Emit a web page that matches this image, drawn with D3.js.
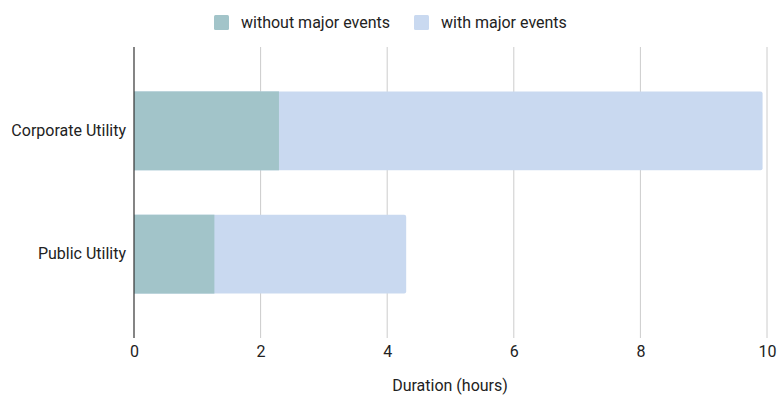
<!DOCTYPE html>
<html>
<head>
<meta charset="utf-8">
<script src="https://cdn.jsdelivr.net/npm/d3@7"></script>
<style>
  html, body { margin: 0; padding: 0; background: #fff; }
  svg { display: block; font-family: Roboto, "Noto Sans", sans-serif; }
</style>
</head>
<body>
<svg id="chart" width="779" height="400"></svg>
<script>
// Average outage duration per utility type, in hours
const categories = ["Corporate Utility", "Public Utility"];
const withoutMajorEvents = [2.29, 1.27];
const withMajorEvents = [9.93, 4.30];
const seriesNames = ["without major events", "with major events"];
const xTicks = [0, 2, 4, 6, 8, 10];
const xTitle = "Duration (hours)";

const colors = ["#a2c4c9", "#c9d9f0"];
const FONT = 16;

const svg = d3.select("#chart");
const plot = { left: 134, right: 767, top: 47, bottom: 338 };

const x = d3.scaleLinear().domain([0, 10]).range([plot.left, plot.right]);
const y = d3.scaleBand().domain(categories)
  .range([plot.top, plot.bottom])
  .paddingInner(0.36).paddingOuter(0.36);

// vertical grid lines
svg.append("g")
  .selectAll("line")
  .data(xTicks.filter(d => d !== 0))
  .join("line")
  .attr("x1", d => x(d)).attr("x2", d => x(d))
  .attr("y1", plot.top).attr("y2", plot.bottom)
  .attr("stroke", "#cccccc").attr("stroke-width", 1);

// bars: the "with" value spans the full bar, "without" overlays from zero
const rows = categories.map((c, i) => ({ cat: c, without: withoutMajorEvents[i], with: withMajorEvents[i] }));

const bars = svg.append("g");
bars.selectAll("path.with")
  .data(rows)
  .join("path")
  .attr("class", "with")
  .attr("fill", colors[1])
  .attr("d", d => {
    const x0 = x(0), x1 = x(d.with), y0 = y(d.cat), h = y.bandwidth(), r = 2;
    return `M${x0},${y0}H${x1 - r}Q${x1},${y0} ${x1},${y0 + r}V${y0 + h - r}Q${x1},${y0 + h} ${x1 - r},${y0 + h}H${x0}Z`;
  });
bars.selectAll("rect.without")
  .data(rows)
  .join("rect")
  .attr("class", "without")
  .attr("x", x(0))
  .attr("y", d => y(d.cat))
  .attr("width", d => x(d.without) - x(0))
  .attr("height", y.bandwidth())
  .attr("fill", colors[0]);

// x axis labels
const xAxis = svg.append("g")
  .attr("transform", `translate(0,${plot.bottom})`)
  .call(d3.axisBottom(x).tickValues(xTicks).tickSize(0).tickPadding(8).tickFormat(d3.format("d")));
xAxis.select(".domain").remove();
xAxis.selectAll("text").attr("font-size", FONT).attr("fill", "#222").attr("font-family", "Roboto, sans-serif");

// y axis labels
const yAxis = svg.append("g")
  .attr("transform", `translate(${plot.left},0)`)
  .call(d3.axisLeft(y).tickSize(0).tickPadding(8));
yAxis.select(".domain").remove();
yAxis.selectAll("text").attr("font-size", FONT).attr("fill", "#222").attr("font-family", "Roboto, sans-serif");

// baseline at zero
svg.append("line")
  .attr("x1", x(0)).attr("x2", x(0))
  .attr("y1", plot.top).attr("y2", plot.bottom)
  .attr("stroke", "#333333").attr("stroke-width", 1.2);

// axis title
svg.append("text")
  .attr("x", 450)
  .attr("y", 391)
  .attr("text-anchor", "middle")
  .attr("font-size", FONT)
  .attr("fill", "#222")
  .text(xTitle);

// legend
const legendX = [214, 414];
const legendItems = svg.append("g").selectAll("g")
  .data(seriesNames)
  .join("g")
  .attr("transform", (d, i) => `translate(${legendX[i]},0)`);
legendItems.append("rect")
  .attr("width", 15).attr("height", 15).attr("rx", 1.5)
  .attr("y", 15)
  .attr("fill", (d, i) => colors[i]);
legendItems.append("text")
  .attr("x", 27).attr("y", 28)
  .attr("font-size", FONT).attr("fill", "#222")
  .text(d => d);
</script>
</body>
</html>
